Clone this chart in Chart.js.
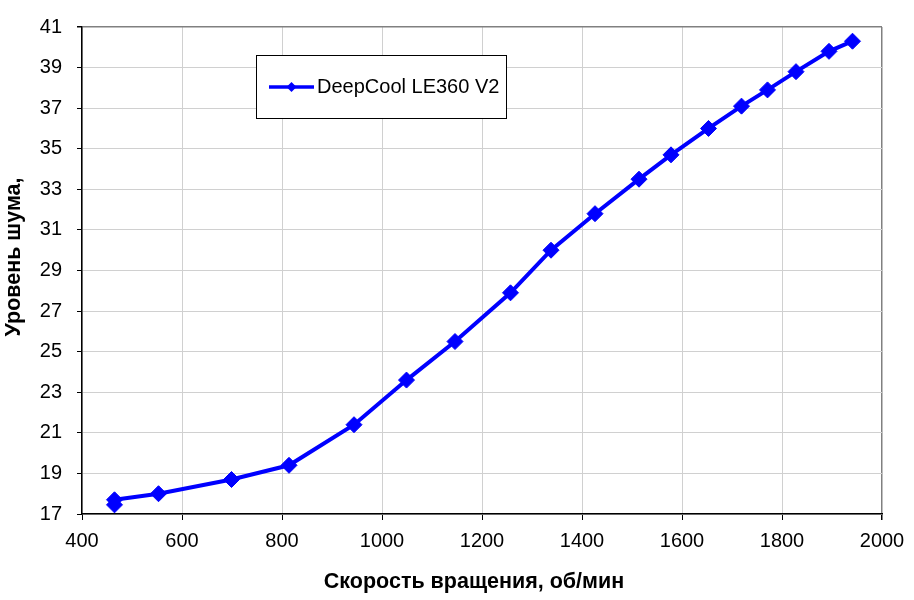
<!DOCTYPE html>
<html>
<head>
<meta charset="utf-8">
<script src="https://cdn.jsdelivr.net/npm/chart.js@4.4.1/dist/chart.umd.min.js"></script>
<style>
  html, body { margin: 0; padding: 0; background: #fff; }
  #chart { display: block; }
</style>
</head>
<body>
<canvas id="chart" width="914" height="600"></canvas>
<script>
// данные с графика
const seriesName = 'DeepCool LE360 V2';
const rpm = [465, 465, 553, 699, 814, 944, 1049, 1146, 1257, 1338, 1426, 1514, 1578, 1653, 1719, 1771, 1828, 1894, 1941];
const noise = [17.45, 17.7, 18.0, 18.7, 19.4, 21.4, 23.6, 25.5, 27.9, 30.0, 31.8, 33.5, 34.7, 36.0, 37.1, 37.9, 38.8, 39.8, 40.3];
const xTicks = [400, 600, 800, 1000, 1200, 1400, 1600, 1800, 2000];
const yTicks = [17, 19, 21, 23, 25, 27, 29, 31, 33, 35, 37, 39, 41];
const xTitle = 'Скорость вращения, об/мин';
const yTitle = 'Уровень шума,';

const FONT = '"Liberation Sans", Arial, sans-serif';
const BLUE = '#0000ff';

// подписи осей и легенда в рамке
const extras = {
    id: 'extras',
    afterDraw(chart) {
        const ctx = chart.ctx;
        const ds = chart.data.datasets[0];
        ctx.save();

        // заголовки осей
        ctx.fillStyle = '#000';
        ctx.font = 'bold 21.5px ' + FONT;
        ctx.textAlign = 'center';
        ctx.textBaseline = 'middle';
        ctx.fillText(xTitle, 474, 582);
        ctx.save();
        ctx.translate(14, 257);
        ctx.rotate(-Math.PI / 2);
        ctx.fillText(yTitle, 0, 0);
        ctx.restore();

        // легенда
        ctx.fillStyle = '#fff';
        ctx.fillRect(256, 55, 250, 63);
        ctx.strokeStyle = '#000';
        ctx.lineWidth = 1;
        ctx.strokeRect(256.5, 55.5, 250, 63);
        ctx.strokeStyle = ds.borderColor;
        ctx.lineWidth = 3.5;
        ctx.beginPath();
        ctx.moveTo(269, 87);
        ctx.lineTo(314, 87);
        ctx.stroke();
        ctx.fillStyle = ds.borderColor;
        ctx.beginPath();
        ctx.moveTo(291.5 - 5, 87);
        ctx.lineTo(291.5, 82);
        ctx.lineTo(291.5 + 5, 87);
        ctx.lineTo(291.5, 92);
        ctx.closePath();
        ctx.fill();
        ctx.fillStyle = '#000';
        ctx.font = '20px ' + FONT;
        ctx.textAlign = 'left';
        ctx.fillText(ds.label, 317, 87);
        ctx.restore();
    }
};

const config = {
    type: 'scatter',
    data: {
        datasets: [{
            label: seriesName,
            data: rpm.map((r, i) => ({ x: r, y: noise[i] })),
            showLine: true,
            borderColor: BLUE,
            backgroundColor: BLUE,
            borderWidth: 4,
            pointStyle: 'rectRot',
            pointRadius: 8,
            pointBorderWidth: 1,
            pointHoverRadius: 8,
            tension: 0
        }]
    },
    options: {
        responsive: false,
        animation: false,
        layout: { padding: { left: 0, top: 24, right: 32, bottom: 0 } },
        plugins: {
            legend: { display: false },
            tooltip: { enabled: false }
        },
        scales: {
            x: {
                type: 'linear',
                min: 400,
                max: 2000,
                afterBuildTicks: s => { s.ticks = xTicks.map(v => ({ value: v })); },
                afterFit: s => { s.height = 86; },
                grid: {
                    color: c => (c.tick && c.tick.value === 2000) ? '#808080' : '#d0d0d0',
                    lineWidth: c => (c.tick && c.tick.value === 2000) ? 1.5 : 1,
                    tickColor: '#000',
                    tickLength: 6,
                    drawTicks: true
                },
                border: { color: '#000', width: 1.5 },
                ticks: {
                    color: '#000',
                    padding: 9,
                    maxRotation: 0,
                    callback: v => String(v),
                    font: { family: FONT, size: 20 }
                },
                title: { display: false }
            },
            y: {
                type: 'linear',
                min: 17,
                max: 41,
                afterBuildTicks: s => { s.ticks = yTicks.map(v => ({ value: v })); },
                afterFit: s => { s.width = 82; },
                grid: {
                    color: c => (c.tick && c.tick.value === 41) ? '#808080' : '#d0d0d0',
                    lineWidth: c => (c.tick && c.tick.value === 41) ? 1.5 : 1,
                    tickColor: '#000',
                    tickLength: 5,
                    drawTicks: true
                },
                border: { color: '#000', width: 1.5 },
                ticks: {
                    color: '#000',
                    padding: 15,
                    callback: v => String(v),
                    font: { family: FONT, size: 20 }
                },
                title: { display: false }
            }
        }
    },
    plugins: [extras]
};

const ctx = document.getElementById('chart');
const myChart = new Chart(ctx, config);
</script>
</body>
</html>
